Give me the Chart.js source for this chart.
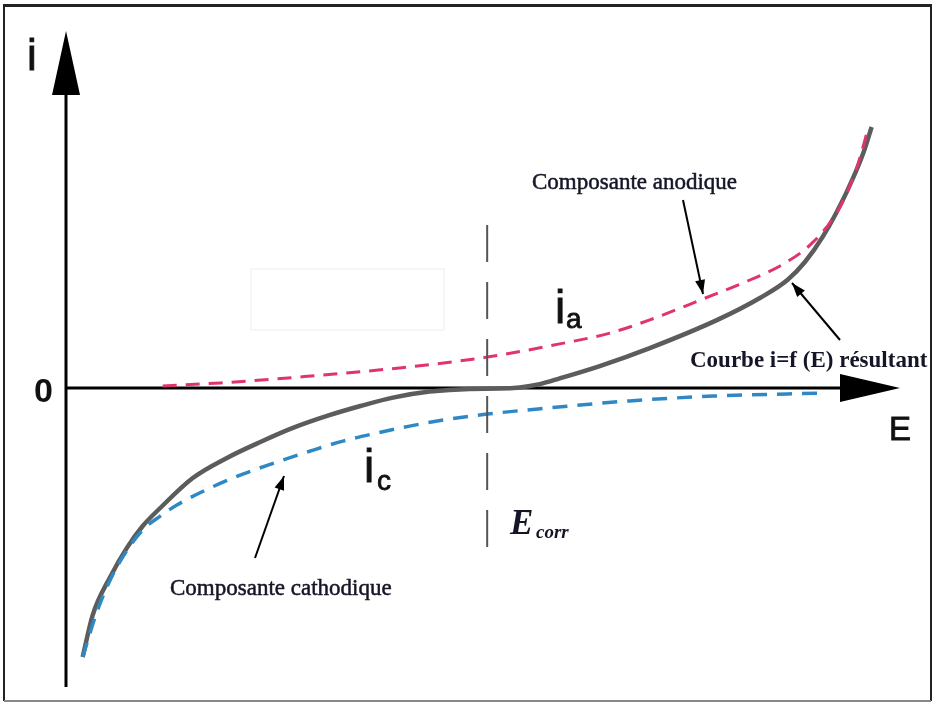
<!DOCTYPE html>
<html>
<head>
<meta charset="utf-8">
<script src="https://cdn.jsdelivr.net/npm/chart.js@4.4.1/dist/chart.umd.min.js"></script>
<style>
  html, body { margin: 0; padding: 0; background: #fff; }
  #wrap { width: 933px; height: 704px; }
</style>
</head>
<body>
<div id="wrap"><canvas id="polar" width="933" height="704"></canvas></div>
<script>
// potential E (arbitrary units) and current i (arbitrary units)
const anodicE = [11.6, 18.5, 28.1, 40.0, 50.5, 59.2, 65.2, 70.0, 76.4, 82.0, 86.0, 89.6, 92.8, 94.8, 96.2];
const anodicI = [0.7, 1.7, 3.7, 6.7, 10.3, 14.7, 18.3, 22.7, 29.7, 36.0, 41.3, 48.7, 60.3, 73.3, 86.7];

const cathodicE = [2.0, 3.7, 5.3, 7.1, 9.2, 11.3, 13.3, 17.3, 21.2, 25.3, 29.3, 33.2, 37.3, 41.2, 45.2, 50.5, 57.7, 67.6, 77.6, 90.4];
const cathodicI = [-89.7, -74.7, -64.0, -55.0, -47.3, -42.7, -39.0, -33.3, -28.7, -24.7, -21.0, -17.7, -15.0, -12.7, -10.7, -8.7, -6.7, -4.3, -2.7, -1.7];

const resultE = [2.0, 3.2, 5.3, 7.3, 9.2, 11.3, 15.2, 19.3, 23.3, 27.2, 31.3, 35.3, 39.2, 43.6, 48.4, 52.0, 54.4, 56.8, 59.2, 64.0, 70.0, 78.1, 83.2, 86.5, 88.6, 90.8, 93.6, 95.6, 96.6];
const resultI = [-89.7, -75.7, -63.0, -53.3, -46.0, -40.0, -30.0, -23.3, -18.0, -13.3, -9.3, -6.0, -3.2, -1.2, -0.3, -0.2, 0.2, 1.3, 3.2, 7.3, 13.3, 22.7, 30.0, 36.0, 42.0, 50.7, 65.3, 78.3, 87.0];

const eCorr = 50.5;
const axisLabels = { y: 'i', x: 'E', zero: '0' };

const toPoints = (xs, ys) => xs.map((x, k) => ({ x: x, y: ys[k] }));

function arrowHead(ctx, x1, y1, x2, y2, len, half) {
  const a = Math.atan2(y2 - y1, x2 - x1);
  ctx.beginPath();
  ctx.moveTo(x2, y2);
  ctx.lineTo(x2 - len * Math.cos(a) + half * Math.sin(a), y2 - len * Math.sin(a) - half * Math.cos(a));
  ctx.lineTo(x2 - len * Math.cos(a) - half * Math.sin(a), y2 - len * Math.sin(a) + half * Math.cos(a));
  ctx.closePath();
  ctx.fill();
}

function pointer(ctx, x1, y1, x2, y2) {
  ctx.beginPath();
  ctx.moveTo(x1, y1);
  ctx.lineTo(x2, y2);
  ctx.stroke();
  arrowHead(ctx, x1, y1, x2, y2, 14, 5);
}

// text with a slight stroke, the scan makes the captions look heavy
function heavyText(ctx, txt, x, y) {
  ctx.fillText(txt, x, y);
  ctx.strokeText(txt, x, y);
}

// axes, frame and all the annotations of the sketch
const sketch = {
  id: 'sketch',
  beforeDatasetsDraw(chart) {
    const ctx = chart.ctx;
    const xs = chart.scales.x, ys = chart.scales.y;
    const x0 = xs.getPixelForValue(0), y0 = ys.getPixelForValue(0);
    const xEnd = xs.getPixelForValue(100), yTop = ys.getPixelForValue(119);
    const yBot = ys.getPixelForValue(-99.7);
    ctx.save();
    ctx.strokeStyle = '#000';
    ctx.fillStyle = '#000';
    ctx.lineWidth = 3;
    ctx.beginPath();
    ctx.moveTo(x0, yBot);
    ctx.lineTo(x0, yTop + 50);
    ctx.moveTo(x0, y0);
    ctx.lineTo(xEnd - 50, y0);
    ctx.stroke();
    arrowHead(ctx, x0, yBot, x0, yTop, 64, 14);
    arrowHead(ctx, x0, y0, xEnd, y0, 60, 14);

    // faint box left in the original scan
    ctx.strokeStyle = 'rgba(0,0,0,0.05)';
    ctx.lineWidth = 1.5;
    ctx.strokeRect(251, 269, 193, 61);
    ctx.restore();
  },
  afterDatasetsDraw(chart) {
    const ctx = chart.ctx;
    const xs = chart.scales.x, ys = chart.scales.y;
    const xc = xs.getPixelForValue(eCorr);
    ctx.save();

    // E corr marker
    ctx.strokeStyle = '#555';
    ctx.lineWidth = 2;
    ctx.setLineDash([37, 20]);
    ctx.beginPath();
    ctx.moveTo(xc, ys.getPixelForValue(54.3));
    ctx.lineTo(xc, ys.getPixelForValue(-53.5));
    ctx.stroke();
    ctx.setLineDash([]);

    // frame
    ctx.strokeStyle = '#222';
    ctx.lineWidth = 3;
    ctx.beginPath(); ctx.moveTo(3, 5.5); ctx.lineTo(932, 5.5); ctx.stroke();
    ctx.lineWidth = 2;
    ctx.beginPath(); ctx.moveTo(4, 5); ctx.lineTo(4, 701); ctx.moveTo(931, 5); ctx.lineTo(931, 701); ctx.stroke();
    ctx.strokeStyle = '#888';
    ctx.beginPath(); ctx.moveTo(4, 701); ctx.lineTo(931, 701); ctx.stroke();

    // axis letters
    ctx.fillStyle = '#111';
    ctx.strokeStyle = '#111';
    ctx.lineWidth = 0.8;
    ctx.textBaseline = 'alphabetic';
    ctx.font = '44px "Liberation Sans", Arial, sans-serif';
    heavyText(ctx, axisLabels.y, 27, 70);
    ctx.font = '33px "Liberation Sans", Arial, sans-serif';
    heavyText(ctx, axisLabels.x, 889, 440);
    ctx.font = 'bold 34px "Liberation Sans", Arial, sans-serif';
    ctx.fillText(axisLabels.zero, 34, 402);

    // i_a and i_c
    ctx.font = '46px "Liberation Sans", Arial, sans-serif';
    heavyText(ctx, 'i', 555, 323);
    heavyText(ctx, 'i', 364, 482);
    ctx.font = '28px "Liberation Sans", Arial, sans-serif';
    heavyText(ctx, 'a', 566, 328);
    heavyText(ctx, 'c', 377, 490);

    // E corr label
    ctx.fillStyle = '#151528';
    ctx.font = 'italic bold 35px "Liberation Serif", "Times New Roman", serif';
    ctx.fillText('E', 510, 534);
    ctx.font = 'italic bold 19px "Liberation Serif", "Times New Roman", serif';
    ctx.fillText('corr', 536, 538);

    // curve captions
    ctx.strokeStyle = '#151528';
    ctx.lineWidth = 0.5;
    ctx.font = '23px "Liberation Serif", "Times New Roman", serif';
    heavyText(ctx, 'Composante anodique', 532, 189);
    heavyText(ctx, 'Composante cathodique', 170, 595);
    ctx.font = 'bold 23px "Liberation Serif", "Times New Roman", serif';
    ctx.fillText('Courbe i=f (E) résultant', 690, 367);

    // pointers
    ctx.strokeStyle = '#000';
    ctx.fillStyle = '#000';
    ctx.lineWidth = 2;
    pointer(ctx, 683, 200, 703, 294);
    pointer(ctx, 840, 340, 792, 283);
    pointer(ctx, 255, 558, 284, 476);
    ctx.restore();
  }
};

new Chart(document.getElementById('polar'), {
  type: 'line',
  data: {
    datasets: [
      {
        label: 'Composante anodique',
        data: toPoints(anodicE, anodicI),
        borderColor: '#e0346c',
        borderWidth: 3,
        borderDash: [14, 9],
        pointRadius: 0,
        cubicInterpolationMode: 'monotone',
        fill: false
      },
      {
        label: 'Composante cathodique',
        data: toPoints(cathodicE, cathodicI),
        borderColor: '#2f88c6',
        borderWidth: 3.5,
        borderDash: [15, 10],
        pointRadius: 0,
        cubicInterpolationMode: 'monotone',
        fill: false
      },
      {
        label: 'Courbe i=f (E) résultant',
        data: toPoints(resultE, resultI),
        borderColor: '#5c5c5c',
        borderWidth: 4.5,
        pointRadius: 0,
        cubicInterpolationMode: 'monotone',
        fill: false
      }
    ]
  },
  options: {
    responsive: false,
    animation: false,
    layout: { padding: { left: 66, right: 33, top: 28, bottom: 16 } },
    scales: {
      x: { type: 'linear', min: 0, max: 100, display: false },
      y: { type: 'linear', min: -100, max: 120, display: false }
    },
    plugins: {
      legend: { display: false },
      tooltip: { enabled: false }
    },
    elements: { line: { borderCapStyle: 'butt' } }
  },
  plugins: [sketch]
});
</script>
</body>
</html>
